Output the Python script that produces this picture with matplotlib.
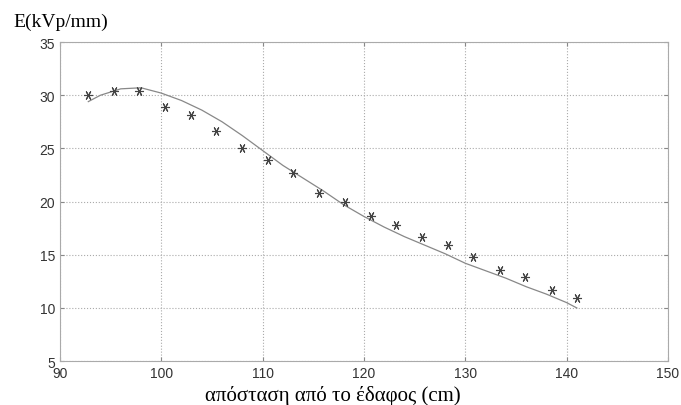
import matplotlib.pyplot as plt

# Measured points (stars)
x_meas = [92.8, 95.3, 97.8, 100.4, 102.9, 105.4, 108.0, 110.5, 113.0, 115.6,
          118.1, 120.7, 123.2, 125.7, 128.3, 130.8, 133.4, 135.9, 138.5, 141.0]
E_meas = [30.0, 30.4, 30.4, 28.9, 28.1, 26.6, 25.0, 23.9, 22.7, 20.8,
          20.0, 18.6, 17.8, 16.7, 15.9, 14.8, 13.6, 12.9, 11.7, 10.9]

# Computed curve
x_calc = [92.8, 94, 96, 98, 100, 102, 104, 106, 108, 110, 112, 114, 116, 118,
          120, 122, 124, 126, 128, 130, 132, 134, 136, 138, 140, 141]
E_calc = [29.4, 30.0, 30.6, 30.7, 30.2, 29.5, 28.6, 27.5, 26.2, 24.8, 23.4,
          22.2, 21.0, 19.7, 18.6, 17.6, 16.7, 15.9, 15.1, 14.2, 13.5, 12.8,
          12.0, 11.3, 10.5, 10.0]

xticks = [90, 100, 110, 120, 130, 140, 150]
yticks = [5, 10, 15, 20, 25, 30, 35]

fig = plt.figure(figsize=(6.81, 4.06), dpi=100)
ax = fig.add_axes([0.088, 0.108, 0.893, 0.786])

ax.plot(x_calc, E_calc, color='#888888', linewidth=0.9)
ax.plot(x_meas, E_meas, linestyle='none', marker=(6, 2, 90), markersize=6.5,
        color='#444444', markeredgewidth=0.8)

ax.set_xlim(90, 150)
ax.set_ylim(5, 35)
ax.set_xticks(xticks)
ax.set_yticks(yticks)
ax.grid(True, linestyle=':', color='#aaaaaa', linewidth=0.8)
ax.tick_params(direction='in', length=3, color='#888888', labelsize=10,
               labelcolor='#333333', right=True, top=True)
for lab in ax.get_xticklabels() + ax.get_yticklabels():
    lab.set_family('Liberation Sans')
for s in ax.spines.values():
    s.set_color('#aaaaaa')

fig.text(0.019, 0.945, 'E(kVp/mm)', family='Liberation Serif', fontsize=14,
         ha='left', va='center')
ax.set_xlabel('απόσταση από το έδαφος (cm)', family='Liberation Serif',
              fontsize=15)
ax.xaxis.set_label_coords(0.449, -0.075)

fig.savefig('out.png', dpi=100)
